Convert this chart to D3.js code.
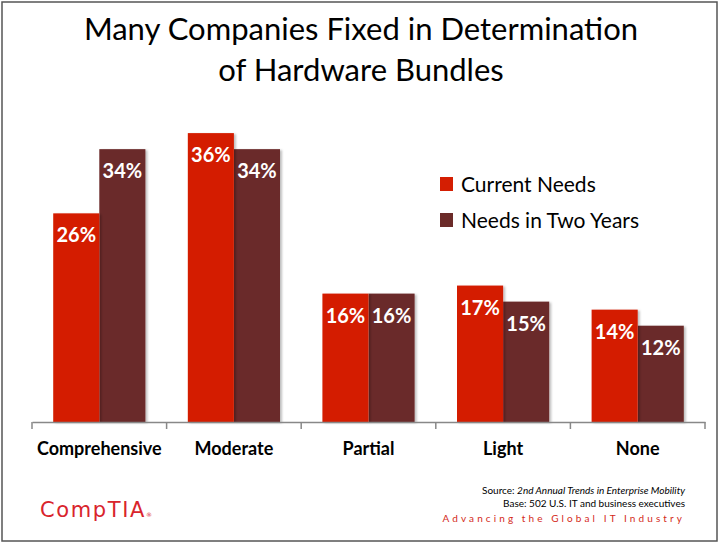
<!DOCTYPE html>
<html>
<head>
<meta charset="utf-8">
<script src="https://cdn.jsdelivr.net/npm/d3@7"></script>
<style>
  body { margin: 0; background: #fff; }
  text { font-family: Lato, "Open Sans", sans-serif; }
</style>
</head>
<body>
<div id="chart"></div>
<script>
  // data
  var categories = ["Comprehensive", "Moderate", "Partial", "Light", "None"];
  var currentNeeds = [26, 36, 16, 17, 14];
  var twoYearNeeds = [34, 34, 16, 15, 12];
  var seriesNames = ["Current Needs", "Needs in Two Years"];
  var titleLines = ["Many Companies Fixed in Determination", "of Hardware Bundles"];

  var width = 722, height = 545;
  var colors = ["#d41e02", "#6b2b29"];

  var svg = d3.select("#chart").append("svg")
    .attr("width", width).attr("height", height);

  var defs = svg.append("defs");
  var f = defs.append("filter").attr("id", "shadow")
    .attr("x", "-10%").attr("y", "-10%").attr("width", "130%").attr("height", "130%");
  f.append("feDropShadow").attr("dx", 2).attr("dy", 1).attr("stdDeviation", 1.2)
    .attr("flood-color", "#000").attr("flood-opacity", 0.25);

  // slide frame
  svg.append("rect")
    .attr("x", 2).attr("y", 2).attr("width", 715).attr("height", 539)
    .attr("fill", "none").attr("stroke", "#555").attr("stroke-width", 1.5);

  // title
  svg.append("g").selectAll("text").data(titleLines).join("text")
    .attr("x", 361).attr("y", (d, i) => 40 + i * 41)
    .attr("text-anchor", "middle")
    .attr("font-size", 31).attr("fill", "#000")
    .text(d => d);

  var x0 = d3.scaleBand().domain(categories).range([32, 705]);
  var x1 = d3.scaleBand().domain([0, 1]).range([0, x0.bandwidth()]).paddingOuter(0.46).paddingInner(0);
  var y = d3.scaleLinear().domain([0, 40]).range([422, 101]);

  var rows = categories.map((c, i) => ({ cat: c, vals: [currentNeeds[i], twoYearNeeds[i]] }));

  var groups = svg.append("g").selectAll("g").data(rows).join("g")
    .attr("transform", d => `translate(${x0(d.cat)},0)`);

  // dark bar drawn first so the red one's shadow falls on it
  var bars = groups.selectAll("g").data(d => d.vals.map((v, k) => ({ v, k })).reverse()).join("g");
  bars.append("rect")
    .attr("x", d => x1(d.k))
    .attr("y", d => y(d.v))
    .attr("width", x1.bandwidth())
    .attr("height", d => y(0) - y(d.v))
    .attr("fill", d => colors[d.k])
    .attr("filter", "url(#shadow)");
  bars.append("text")
    .attr("x", d => x1(d.k) + x1.bandwidth() / 2)
    .attr("y", d => y(d.v) + 29)
    .attr("text-anchor", "middle")
    .attr("font-size", 20).attr("font-weight", "bold").attr("fill", "#fff")
    .text(d => d.v + "%");

  // category axis
  var axis = svg.append("g").attr("transform", "translate(0,422)")
    .call(d3.axisBottom(x0).tickSize(0));
  axis.select(".domain").attr("stroke", "#888").attr("stroke-width", 1.5);
  axis.selectAll(".tick text")
    .attr("y", 33).attr("dy", 0)
    .attr("font-size", 18).attr("font-weight", "bold").attr("fill", "#000")
    .style("font-family", "Lato, sans-serif");
  var edges = categories.map(c => x0(c)).concat([x0.range()[1]]);
  axis.append("g").selectAll("line").data(edges).join("line")
    .attr("x1", d => d).attr("x2", d => d)
    .attr("y1", 0).attr("y2", 7)
    .attr("stroke", "#888").attr("stroke-width", 1.5);

  // legend
  var legend = svg.append("g").selectAll("g").data(seriesNames).join("g")
    .attr("transform", (d, i) => `translate(440,${177 + i * 36})`);
  legend.append("rect").attr("width", 13).attr("height", 14)
    .attr("fill", (d, i) => colors[i]);
  legend.append("text").attr("x", 21).attr("y", 15)
    .attr("font-size", 21).attr("fill", "#000").text(d => d);

  // footer
  var foot = svg.append("g").attr("text-anchor", "end").attr("font-size", 10)
    .style("font-family", "'Open Sans', sans-serif");
  var src = foot.append("text").attr("x", 685).attr("y", 494);
  src.append("tspan").text("Source: ");
  src.append("tspan").attr("font-style", "italic").text("2nd Annual Trends in Enterprise Mobility");
  foot.append("text").attr("x", 685).attr("y", 507).text("Base: 502 U.S. IT and business executives");
  foot.append("text").attr("x", 685).attr("y", 522)
    .attr("fill", "#d42a20").attr("letter-spacing", 3.1)
    .text("Advancing the Global IT Industry");

  // logo
  var logo = svg.append("text").attr("x", 40).attr("y", 517)
    .attr("font-size", 21).attr("letter-spacing", 1.6).attr("fill", "#d9242c")
    .style("font-family", "'DejaVu Sans', sans-serif");
  logo.append("tspan").text("CompTIA");
  logo.append("tspan").attr("font-size", 6).attr("letter-spacing", 0).text("®");
</script>
</body>
</html>
